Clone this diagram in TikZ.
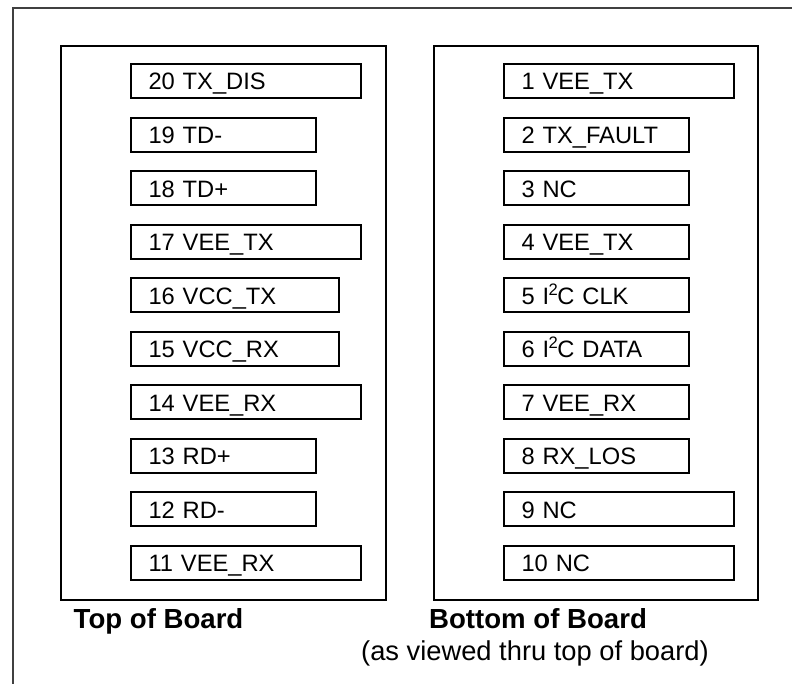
\documentclass[tikz,border=0pt]{standalone}
\usepackage{fontspec}
\setmainfont{Liberation Sans}
\newcommand{\sqI}{I\kern-0.5pt\textsuperscript{2}\kern-1pt C}
\begin{document}
\begin{tikzpicture}[x=1pt,y=-1pt,
  pinbox/.style={draw, line width=2pt, anchor=north west, minimum height=34pt,
    inner xsep=17.5pt, inner ysep=0pt, align=left,
    font=\fontsize{23.7}{28}\selectfont, text height=21.5pt, text depth=3.5pt},
  longpin/.style={pinbox, text width=195pt},
  midpin/.style={pinbox, text width=173pt},
  shortpin/.style={pinbox, text width=150pt},
  panel/.style={draw, line width=2.2pt},
  caption/.style={anchor=base west, inner sep=0pt, font=\bfseries\fontsize{27.6}{32}\selectfont},
  note/.style={anchor=base west, inner sep=0pt, font=\fontsize{27.3}{32}\selectfont}]
  \useasboundingbox (0,0) rectangle (792,684);
  % page frame (runs off the right and bottom edges)
  \draw[line width=1.3pt, black!75] (13,684) -- (13,8) -- (792,8);

  % board outlines
  \node[panel, minimum width=325pt, minimum height=554pt, anchor=north west, inner sep=0pt] (topboard) at (60,45) {};
  \node[panel, minimum width=324pt, minimum height=554pt, anchor=north west, inner sep=0pt] (bottomboard) at (433,45) {};

  % top of board pins
  \node[longpin]  (pin20) at (130,63.00)  {20 TX\_DIS};
  \node[shortpin] (pin19) at (130,116.55) {19 TD-};
  \node[shortpin] (pin18) at (130,170.10) {18 TD+};
  \node[longpin]  (pin17) at (130,223.65) {17 VEE\_TX};
  \node[midpin]   (pin16) at (130,277.20) {16 VCC\_TX};
  \node[midpin]   (pin15) at (130,330.75) {15 VCC\_RX};
  \node[longpin]  (pin14) at (130,384.30) {14 VEE\_RX};
  \node[shortpin] (pin13) at (130,437.85) {13 RD+};
  \node[shortpin] (pin12) at (130,491.40) {12 RD-};
  \node[longpin]  (pin11) at (130,544.95) {11 VEE\_RX};

  % bottom of board pins
  \node[longpin]  (pin1)  at (503,63.00)  {1 VEE\_TX};
  \node[shortpin] (pin2)  at (503,116.55) {2 TX\_FAULT};
  \node[shortpin] (pin3)  at (503,170.10) {3 NC};
  \node[shortpin] (pin4)  at (503,223.65) {4 VEE\_TX};
  \node[shortpin] (pin5)  at (503,277.20) {5 \sqI{} CLK};
  \node[shortpin] (pin6)  at (503,330.75) {6 \sqI{} DATA};
  \node[shortpin] (pin7)  at (503,384.30) {7 VEE\_RX};
  \node[shortpin] (pin8)  at (503,437.85) {8 RX\_LOS};
  \node[longpin]  (pin9)  at (503,491.40) {9 NC};
  \node[longpin]  (pin10) at (503,544.95) {10 NC};

  % captions
  \node[caption] (toplabel) at (73.5,628) {Top of Board};
  \node[caption] (bottomlabel) at (429,628) {Bottom of Board};
  \node[note] (viewnote) at (361,660) {(as viewed thru top of board)};
\end{tikzpicture}
\end{document}
